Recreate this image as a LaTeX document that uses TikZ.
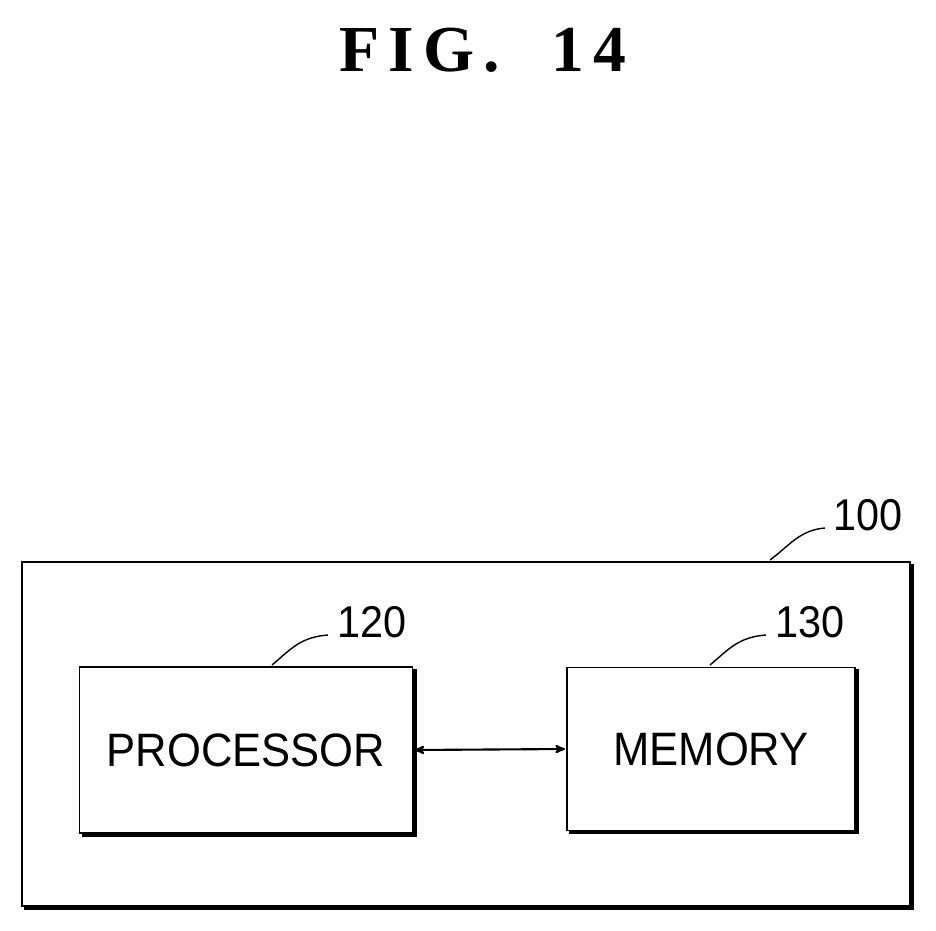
\documentclass[tikz,border=0pt]{standalone}
\usepackage{fontspec}
\setmainfont{Liberation Sans}
\newfontfamily\titlefont[LetterSpace=14]{Liberation Serif}
\usetikzlibrary{arrows}
\usetikzlibrary{positioning}
\begin{document}
\begin{tikzpicture}[x=0.03cm,y=-0.03cm,>=stealth',thick,
  block/.style={draw,line width=1.2pt},
  shade/.style={line width=3pt},
  tag/.style={font=\fontsize{38}{40}\selectfont,inner sep=0pt,xscale=0.93}]
  \useasboundingbox (0,0) rectangle (936,930);
  \node[font=\titlefont\bfseries\fontsize{56}{58}\selectfont] (title) at (483,50) {FIG.\ \ 14};

  % outer device
  \draw[block] (22,562) rectangle (910,906);
  \draw[shade] (912,564) -- (912,908) -- (24,908);
  \node[tag] (l100) at (868,515) {100};
  \draw[block] (770,560) .. controls (790,545) and (800,530) .. (825,528);

  % processor and memory
  \node[block,minimum width=333*0.03cm,minimum height=166*0.03cm] (proc) at (246,750) {};
  \node[font=\fontsize{40}{42}\selectfont,xscale=0.93] at (proc) {PROCESSOR};
  \draw[shade] (415,669) -- (415,835) -- (82,835);
  \node[block,minimum width=288*0.03cm,minimum height=163*0.03cm] (mem) at (711,749) {};
  \node[font=\fontsize{40}{42}\selectfont,xscale=0.93] at (mem) {MEMORY};
  \draw[shade] (857,669) -- (857,832) -- (569,832);

  \node[tag] (l120) at (372,622) {120};
  \draw[block] (272,665) .. controls (290,650) and (300,637) .. (328,635);
  \node[tag] (l130) at (810,622) {130};
  \draw[block] (710,665) .. controls (728,650) and (738,637) .. (766,635);

  \draw[<->,line width=1.8pt,shorten <=1pt,shorten >=1pt] (proc.east) -- (mem.west);
\end{tikzpicture}
\end{document}
